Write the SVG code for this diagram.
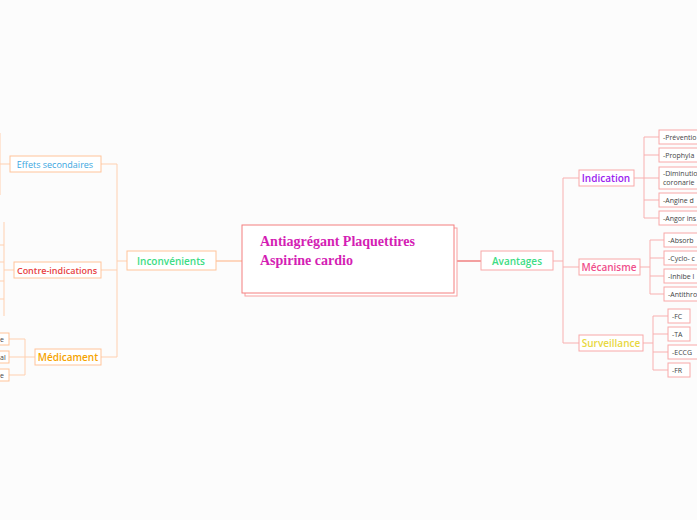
<svg xmlns="http://www.w3.org/2000/svg" width="697" height="520" viewBox="0 0 697 520">
<style>
text{font-family:"Open Sans","Lato",sans-serif}
.lb{fill:#fff;stroke:#ffc49a;stroke-width:1}
.rb{fill:#fff;stroke:#f8a8a8;stroke-width:1}
.ll{fill:none;stroke:#ffd0b0;stroke-width:1}
.rl{fill:none;stroke:#f8b0b0;stroke-width:1}
.m{font-size:10px;font-weight:600}
.s{font-size:7px;fill:#444}
</style>
<rect width="697" height="520" fill="#fcfcfc"/>
<g id="connectors">
<path class="ll" d="M216 261H242" style="stroke:#ffb080"/>
<path class="ll" d="M117 164V357M101 164H117M101 270H117M101 357H117M117 261H127"/>
<path class="ll" d="M0 164H10M0 133V195"/>
<path class="ll" d="M4 222V316M0 245H4M0 262H4M0 281H4M0 299H4M4 270H14"/>
<path class="ll" d="M25 339V375M9 339H25M9 357H35M9 375H25"/>
<path class="rl" d="M454 261H481" style="stroke:#f08080;stroke-width:1.5"/>
<path class="rl" d="M553 261H563M563 178V343M563 178H579M563 267H579M563 343H579"/>
<path class="rl" d="M634 178H644M644 137V218M644 137H659M644 155H659M644 178H659M644 200H659M644 218H659"/>
<path class="rl" d="M640 267H650M650 240V294M650 240H664M650 258H664M650 276H664M650 294H664"/>
<path class="rl" d="M643 343H653M653 316V370M653 316H668M653 334H668M653 352H668M653 370H668"/>
</g>
<g id="central">
<rect x="245" y="228" width="212" height="68" fill="#fff" stroke="#f8a0a0"/>
<rect x="242" y="225" width="212" height="68" fill="#fff" stroke="#f47f7f"/>
<text x="260" y="246" style="font-family:'Liberation Serif',serif;font-size:14px;font-weight:bold;fill:#d41eb4">Antiagrégant Plaquettires</text>
<text x="260" y="265" style="font-family:'Liberation Serif',serif;font-size:14px;font-weight:bold;fill:#d41eb4">Aspirine cardio</text>
</g>
<g id="inconvenients"><rect class="lb" x="127" y="251" width="89" height="19"/><text class="m" x="171" y="265" text-anchor="middle" fill="#3ddc84">Inconvénients</text></g>
<g id="effets"><rect class="lb" x="10" y="156" width="91" height="16"/><text x="55" y="168" text-anchor="middle" font-size="9" fill="#3aa6e0">Effets secondaires</text></g>
<g id="contre"><rect class="lb" x="14" y="262" width="87" height="16"/><text x="57" y="274" text-anchor="middle" font-size="9" font-weight="600" fill="#e8423f">Contre-indications</text></g>
<g id="medicament"><rect class="lb" x="35" y="349" width="66" height="16"/><text class="m" x="68" y="361" text-anchor="middle" fill="#f5a300">Médicament</text></g>
<g id="med1"><rect class="lb" x="-20" y="333" width="29" height="12"/><text class="s" x="0" y="342">e</text></g>
<g id="med2"><rect class="lb" x="-20" y="351" width="29" height="12"/><text class="s" x="0" y="360">al</text></g>
<g id="med3"><rect class="lb" x="-20" y="369" width="29" height="12"/><text class="s" x="0" y="378">e</text></g>
<g id="avantages"><rect class="rb" x="481" y="251" width="72" height="19"/><text class="m" x="517" y="265" text-anchor="middle" fill="#3ddc84">Avantages</text></g>
<g id="indication"><rect class="rb" x="579" y="170" width="55" height="16"/><text class="m" x="606" y="182" text-anchor="middle" fill="#9b1cf0">Indication</text></g>
<g id="mecanisme"><rect class="rb" x="579" y="259" width="61" height="16"/><text class="m" x="609" y="271" text-anchor="middle" fill="#f0508c">Mécanisme</text></g>
<g id="surveillance"><rect class="rb" x="579" y="335" width="64" height="16"/><text class="m" x="611" y="347" text-anchor="middle" fill="#e8d840">Surveillance</text></g>
<g id="i1"><rect class="rb" x="659" y="130" width="50" height="14"/><text class="s" x="663" y="140">-Préventio</text></g>
<g id="i2"><rect class="rb" x="659" y="148" width="50" height="14"/><text class="s" x="663" y="158">-Prophyla</text></g>
<g id="i3"><rect class="rb" x="659" y="167" width="50" height="22"/><text class="s" x="663" y="176">-Diminutio</text><text class="s" x="663" y="185">coronarie</text></g>
<g id="i4"><rect class="rb" x="659" y="193" width="50" height="14"/><text class="s" x="663" y="203">-Angine d</text></g>
<g id="i5"><rect class="rb" x="659" y="211" width="50" height="14"/><text class="s" x="663" y="221">-Angor ins</text></g>
<g id="m1"><rect class="rb" x="664" y="233" width="45" height="14"/><text class="s" x="668" y="243">-Absorb</text></g>
<g id="m2"><rect class="rb" x="664" y="251" width="45" height="14"/><text class="s" x="668" y="261">-Cyclo- c</text></g>
<g id="m3"><rect class="rb" x="664" y="269" width="45" height="14"/><text class="s" x="668" y="279">-Inhibe l</text></g>
<g id="m4"><rect class="rb" x="664" y="287" width="45" height="14"/><text class="s" x="668" y="297">-Antithro</text></g>
<g id="s1"><rect class="rb" x="668" y="309" width="22" height="14"/><text class="s" x="672" y="319">-FC</text></g>
<g id="s2"><rect class="rb" x="668" y="327" width="22" height="14"/><text class="s" x="672" y="337">-TA</text></g>
<g id="s3"><rect class="rb" x="668" y="345" width="31" height="14"/><text class="s" x="672" y="355">-ECCG</text></g>
<g id="s4"><rect class="rb" x="668" y="363" width="22" height="14"/><text class="s" x="672" y="373">-FR</text></g>
</svg>
